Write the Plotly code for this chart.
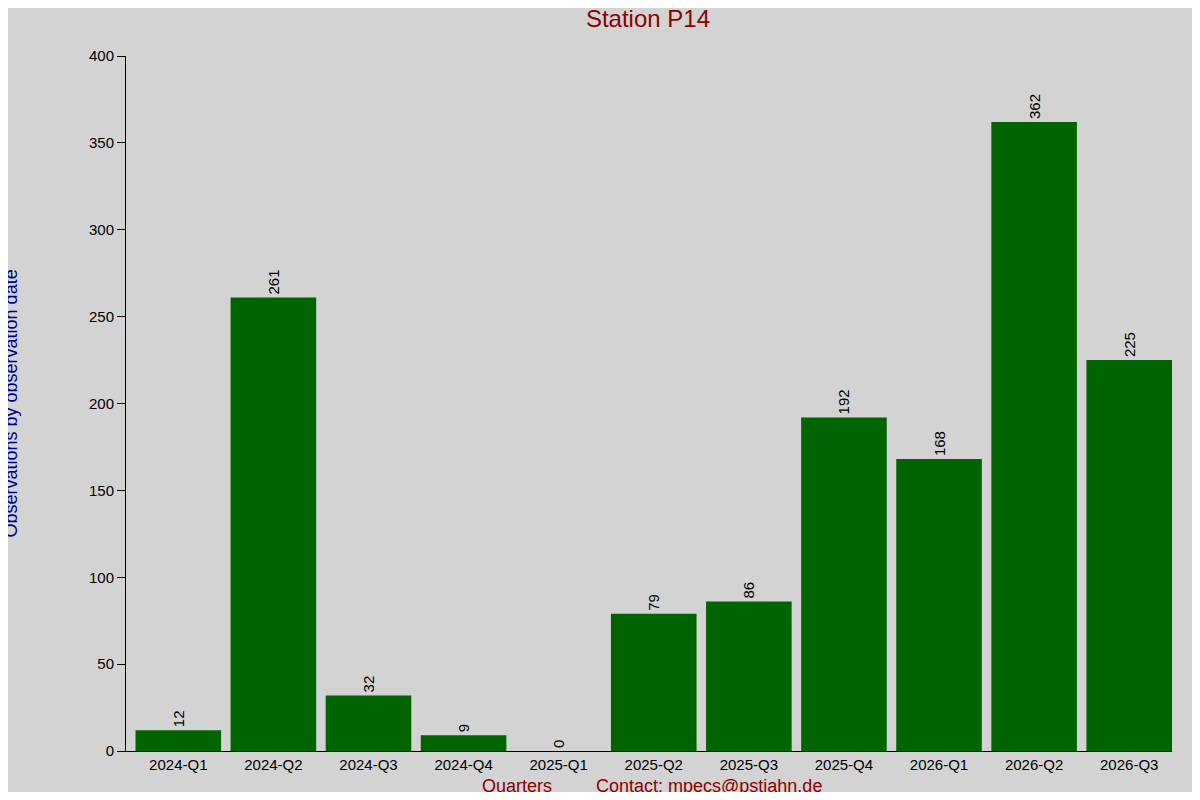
import plotly.graph_objects as go

quarters = ['2024-Q1', '2024-Q2', '2024-Q3', '2024-Q4', '2025-Q1', '2025-Q2',
            '2025-Q3', '2025-Q4', '2026-Q1', '2026-Q2', '2026-Q3']
counts = [12, 261, 32, 9, 0, 79, 86, 192, 168, 362, 225]
y_ticks = [0, 50, 100, 150, 200, 250, 300, 350, 400]

fnt = 'Liberation Sans, Arial, sans-serif'

fig = go.Figure()
fig.add_trace(go.Bar(
    x=quarters, y=counts, width=0.9,
    marker=dict(color='#006400', line_width=0),
    text=[str(c) + '  ' for c in counts], textposition='outside', textangle=-90,
    textfont=dict(size=15, color='black', family=fnt),
    cliponaxis=False,
))

# page puts the plot 8px in from the corner, so the figure is 16px smaller
fig.update_layout(
    width=1184, height=784,
    paper_bgcolor='#d3d3d3', plot_bgcolor='#d3d3d3',
    margin=dict(l=118, r=20, t=48, b=41),
    font=dict(family=fnt, size=15, color='black'),
    showlegend=False,
    title=dict(text='Station P14', xref='paper', x=0.499, xanchor='center',
               y=0.987, yanchor='middle', font=dict(size=24, color='#8b0000')),
    xaxis=dict(showgrid=False, showline=True, linecolor='black', linewidth=1,
               ticks='', range=[-0.55, 10.45], tickfont=dict(size=15)),
    yaxis=dict(range=[0, 400], tickvals=y_ticks, showgrid=False, zeroline=False,
               showline=True, linecolor='black', linewidth=1,
               ticks='outside', ticklen=8, tickcolor='black',
               tickfont=dict(size=15)),
    annotations=[
        dict(text='Quarters', xref='paper', yref='paper', x=0.374, y=0,
             yshift=-35, xanchor='center', yanchor='middle', showarrow=False,
             font=dict(size=18, color='#8b0000')),
        dict(text='Contact: mpecs@pstjahn.de', xref='paper', yref='paper',
             x=0.557, y=0, yshift=-35, xanchor='center', yanchor='middle',
             showarrow=False, font=dict(size=18, color='#8b0000')),
        dict(text='Observations by observation date', xref='paper', yref='paper',
             x=0, xshift=-116, y=0.5, xanchor='center', yanchor='middle',
             textangle=-90, showarrow=False,
             font=dict(size=18, color='#00008b')),
    ],
)

fig.write_html('out.html')
